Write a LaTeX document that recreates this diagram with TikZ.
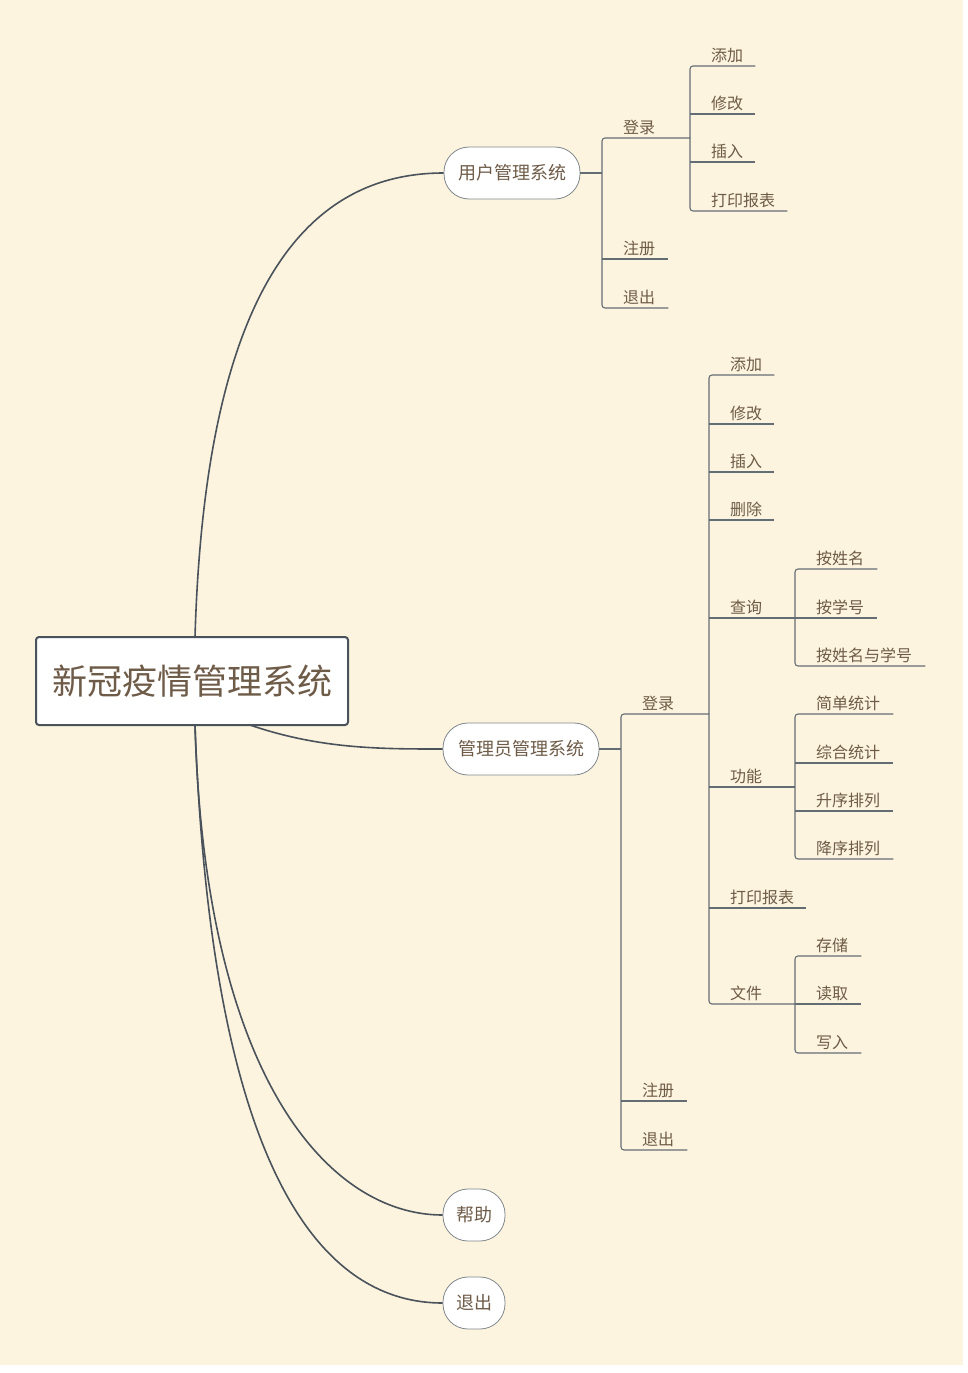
\documentclass[tikz,border=0pt]{standalone}
\usepackage{fontspec}
\setmainfont{Noto Sans CJK SC}
\usetikzlibrary{shapes,arrows}
\definecolor{bgcol}{HTML}{FCF4DE}
\definecolor{txtcol}{HTML}{6E5B48}
\definecolor{linecol}{HTML}{4A535C}
% leaf: name, x, y, width, text
\newcommand{\leaf}[5]{\node[leaf, text width=#4pt] (#1) at (#2,#3) {\hspace*{21pt}#5};}
\begin{document}
\begin{tikzpicture}[x=1pt, y=-1pt,
  leaf/.style={anchor=south west, inner xsep=0pt, inner ysep=3pt, align=left, text=txtcol, font=\fontsize{16}{18}\selectfont},
  topic/.style={draw=linecol!70, line width=0.8pt, fill=white, rounded corners=25pt, minimum height=52pt, inner xsep=0pt, text=txtcol, font=\fontsize{18}{20}\selectfont},
  conn/.style={draw=linecol, line width=1.6pt},
  sub/.style={draw=linecol!85, line width=1.1pt}]
  \fill[white] (0,0) rectangle (967,1373);
  \fill[bgcol] (0,0) rectangle (963,1365);
  \useasboundingbox (0,0) rectangle (967,1373);

  % Root and main topics
  \node[draw=linecol, line width=2pt, fill=white, rounded corners=3pt, minimum width=312pt, minimum height=88pt, text=txtcol, font=\fontsize{35}{40}\selectfont] (root) at (192,681) {新冠疫情管理系统};
  \node[topic, minimum width=136pt] (user) at (512,173) {用户管理系统};
  \node[topic, minimum width=156pt] (admin) at (521,749) {管理员管理系统};
  \node[topic, minimum width=62pt] (help) at (474,1215) {帮助};
  \node[topic, minimum width=62pt] (quit) at (474,1303) {退出};

  \draw[conn] (195,637) .. controls (205,300) and (300,173) .. (user.west);
  \draw[conn] (250,725) .. controls (320,749) and (380,749) .. (admin.west);
  \draw[conn] (195,725) .. controls (205,1080) and (330,1215) .. (help.west);
  \draw[conn] (195,725) .. controls (212,1190) and (330,1303) .. (quit.west);

  % User branch
  \leaf{ulogin}{602}{138}{88}{登录}
  \leaf{ureg}{602}{259}{66}{注册}
  \leaf{uquit}{602}{308}{66}{退出}
  \leaf{uadd}{690}{66}{65}{添加}
  \leaf{umod}{690}{114}{65}{修改}
  \leaf{uins}{690}{162}{65}{插入}
  \leaf{uprint}{690}{211}{97}{打印报表}
  \draw[sub] (user.east) -- (602,173);
  \draw[sub, rounded corners=3pt] (ulogin.south east) -- (ulogin.south west) -- (uquit.south west) -- (uquit.south east);
  \draw[sub] (ureg.south west) -- (ureg.south east);
  \draw[sub, rounded corners=3pt] (uadd.south east) -- (uadd.south west) -- (uprint.south west) -- (uprint.south east);
  \draw[sub] (umod.south west) -- (umod.south east);
  \draw[sub] (uins.south west) -- (uins.south east);

  % Admin branch
  \leaf{alogin}{621}{714}{88}{登录}
  \leaf{areg}{621}{1101}{66}{注册}
  \leaf{aquit}{621}{1150}{66}{退出}
  \leaf{aadd}{709}{375}{65}{添加}
  \leaf{amod}{709}{424}{65}{修改}
  \leaf{ains}{709}{472}{65}{插入}
  \leaf{adel}{709}{520}{65}{删除}
  \leaf{aquery}{709}{618}{86}{查询}
  \leaf{afunc}{709}{787}{86}{功能}
  \leaf{aprint}{709}{908}{97}{打印报表}
  \leaf{afile}{709}{1004}{86}{文件}
  \leaf{qname}{795}{569}{82}{按姓名}
  \leaf{qid}{795}{618}{82}{按学号}
  \leaf{qboth}{795}{666}{130}{按姓名与学号}
  \leaf{fsimple}{795}{714}{98}{简单统计}
  \leaf{fall}{795}{763}{98}{综合统计}
  \leaf{fup}{795}{811}{98}{升序排列}
  \leaf{fdown}{795}{859}{98}{降序排列}
  \leaf{dsave}{795}{956}{66}{存储}
  \leaf{dread}{795}{1004}{66}{读取}
  \leaf{dwrite}{795}{1053}{66}{写入}
  \draw[sub] (admin.east) -- (621,749);
  \draw[sub, rounded corners=3pt] (alogin.south east) -- (alogin.south west) -- (aquit.south west) -- (aquit.south east);
  \draw[sub] (areg.south west) -- (areg.south east);
  \draw[sub, rounded corners=3pt] (aadd.south east) -- (aadd.south west) -- (afile.south west) -- (afile.south east);
  \foreach \n in {amod,ains,adel,aquery,afunc,aprint}
    \draw[sub] (\n.south west) -- (\n.south east);
  \draw[sub, rounded corners=3pt] (qname.south east) -- (qname.south west) -- (qboth.south west) -- (qboth.south east);
  \draw[sub] (qid.south west) -- (qid.south east);
  \draw[sub, rounded corners=3pt] (fsimple.south east) -- (fsimple.south west) -- (fdown.south west) -- (fdown.south east);
  \draw[sub] (fall.south west) -- (fall.south east);
  \draw[sub] (fup.south west) -- (fup.south east);
  \draw[sub, rounded corners=3pt] (dsave.south east) -- (dsave.south west) -- (dwrite.south west) -- (dwrite.south east);
  \draw[sub] (dread.south west) -- (dread.south east);
\end{tikzpicture}
\end{document}
